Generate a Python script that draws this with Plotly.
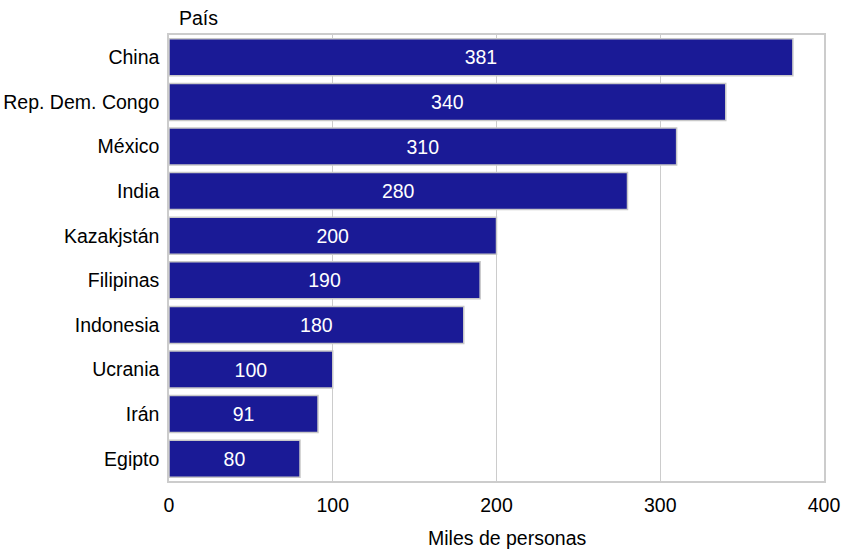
import plotly.graph_objects as go

paises = ["China", "Rep. Dem. Congo", "México", "India", "Kazakjstán",
          "Filipinas", "Indonesia", "Ucrania", "Irán", "Egipto"]
valores = [381, 340, 310, 280, 200, 190, 180, 100, 91, 80]
ticks = [0, 100, 200, 300, 400]

FS = 19.5

fig = go.Figure(go.Bar(
    x=valores, y=paises, orientation="h",
    marker=dict(color="#1a1a96", line=dict(color="#c8c8c8", width=1.5)),
    text=[str(v) for v in valores], textposition="inside",
    insidetextanchor="middle",
    textfont=dict(color="white", size=FS, family="Liberation Sans, Arial"),
    width=0.83,
))

fig.update_layout(
    width=844, height=550,
    margin=dict(l=169, r=20, t=35, b=69),
    plot_bgcolor="white", paper_bgcolor="white",
    font=dict(family="Liberation Sans, Arial", size=FS, color="black"),
    showlegend=False,
    uniformtext=dict(minsize=FS, mode="show"),
    xaxis=dict(range=[0, 400], tickvals=ticks, showgrid=True, gridcolor="#cccccc",
               gridwidth=1, zeroline=False, showline=True, linecolor="#cccccc",
               linewidth=1.5, mirror=True, ticks="", ticklen=0, automargin=False,
               ticklabelstandoff=6, tickfont=dict(size=FS)),
    yaxis=dict(autorange="reversed", showline=True, linecolor="#cccccc", linewidth=1.5,
               mirror=True, showgrid=False, ticks="", ticklabelstandoff=4,
               automargin=False, tickfont=dict(size=FS)),
    annotations=[
        dict(text="País", xref="paper", yref="paper", x=0.012, y=1.0,
             xanchor="left", yanchor="bottom", yshift=4, showarrow=False,
             font=dict(size=FS)),
        dict(text="Miles de personas", xref="paper", yref="paper", x=0.516, y=0.0,
             xanchor="center", yanchor="middle", yshift=-57, showarrow=False,
             font=dict(size=FS)),
    ],
)

fig.write_html("out.html")
